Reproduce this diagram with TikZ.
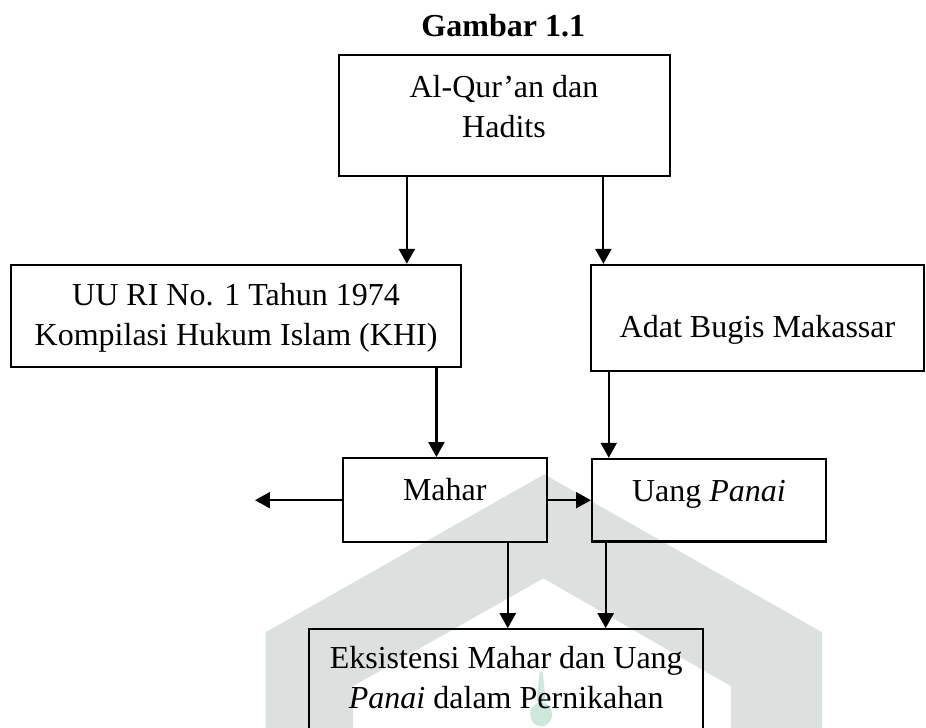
\documentclass[tikz,border=0pt]{standalone}
\usepackage{fontspec}
\setmainfont{Liberation Serif}
\usepackage{xcolor}
\usepackage{tikz}
\usetikzlibrary{arrows.meta}
\definecolor{wmgray}{RGB}{220,225,223}
\definecolor{wmgreen}{RGB}{204,232,218}

\begin{document}
\begin{tikzpicture}[>={Triangle[length=5.6pt, width=6pt]},
  box/.style={draw, line width=0.8pt, inner sep=0pt},
  txt/.style={font=\fontsize{12}{15}\selectfont, align=center, inner sep=0pt},
  arr/.style={->, line width=0.8pt}]
\clip (0,0) rectangle (12.20,-9.59);
% watermark behind the chart
\fill[wmgray] (3.50,-9.70) -- (3.50,-8.33) -- (7.17,-6.25) -- (10.83,-8.33) -- (10.83,-9.70)
  -- (9.63,-9.70) -- (9.63,-9.04) -- (7.16,-7.62) -- (4.65,-9.04) -- (4.65,-9.70) -- cycle;
\fill[wmgreen] (7.11,-8.85) -- (7.15,-8.85) -- (7.19,-9.24) -- (7.07,-9.24) -- cycle;
\fill[wmgreen] (7.13,-9.41) ellipse (0.145 and 0.16);

\node[txt, anchor=base] (title) at (6.63,-0.48) {\bfseries Gambar 1.1};

\node[box, minimum width=4.36cm, minimum height=1.59cm] (quran) at (6.65,-1.52) {};
\node[box, minimum width=5.93cm, minimum height=1.34cm] (uu) at (3.11,-4.16) {};
\node[box, minimum width=4.39cm, minimum height=1.40cm] (adat) at (9.98,-4.19) {};
\node[box, minimum width=2.69cm, minimum height=1.11cm] (mahar) at (5.86,-6.59) {};
\node[box, minimum width=3.08cm, minimum height=1.09cm] (panai) at (9.34,-6.59) {};
\node[box, minimum width=5.19cm, minimum height=2.12cm] (eks) at (6.67,-9.35) {};

\node[txt, anchor=north] (quranT) at (6.64,-0.99) {Al-Qur’an dan\\Hadits};
\node[txt, anchor=north] (uuT) at (3.11,-3.73) {UU RI No. 1 Tahun 1974\\Kompilasi Hukum Islam (KHI)};
\node[txt, anchor=base] (adatT) at (9.98,-4.45) {Adat Bugis Makassar};
\node[txt, anchor=base] (maharT) at (5.86,-6.60) {Mahar};
\node[txt, anchor=base] (panaiT) at (9.34,-6.61) {Uang \textit{Panai}};
\node[txt, anchor=north] (eksT) at (6.67,-8.51) {Eksistensi Mahar dan Uang\\\textit{Panai} dalam Pernikahan};

\coordinate (q1) at (5.36,0);
\coordinate (q2) at (7.95,0);
\coordinate (u1) at (5.75,0);
\coordinate (a1) at (8.02,0);
\coordinate (m1) at (6.69,0);
\coordinate (p1) at (7.98,0);
\coordinate (out) at (3.36,-6.59);

\draw[arr] (quran.south -| q1) -- (uu.north -| q1);
\draw[arr] (quran.south -| q2) -- (adat.north -| q2);
\draw[arr] (uu.south -| u1) -- (mahar.north -| u1);
\draw[arr] (adat.south -| a1) -- (panai.north -| a1);
\draw[arr] (mahar.west) -- (out);
\draw[arr] (mahar.east) -- (panai.west);
\draw[arr] (mahar.south -| m1) -- (eks.north -| m1);
\draw[arr] (panai.south -| p1) -- (eks.north -| p1);
\end{tikzpicture}
\end{document}
